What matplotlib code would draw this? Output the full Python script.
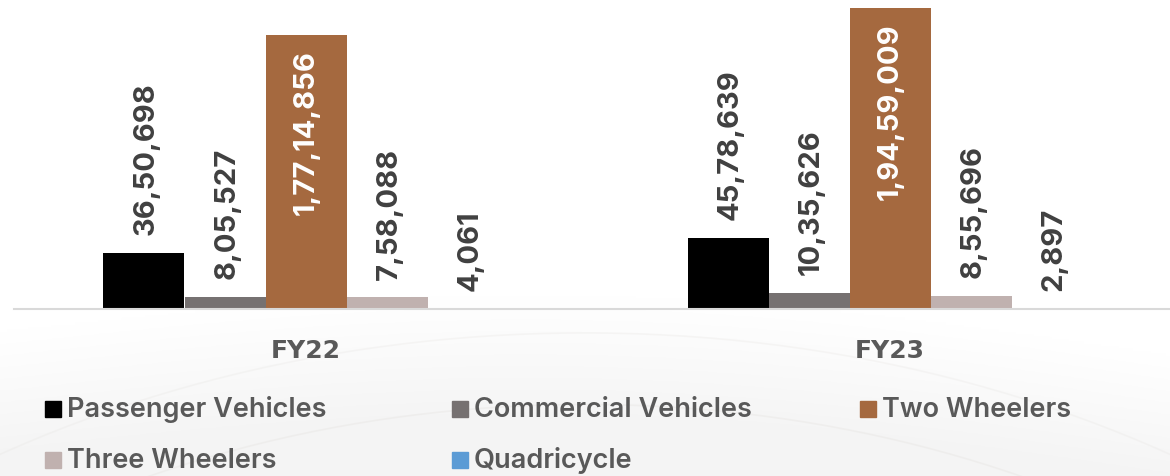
import numpy as np
import matplotlib.pyplot as plt
from matplotlib.patches import Rectangle

# data
years = ["FY22", "FY23"]
series = ["Passenger Vehicles", "Commercial Vehicles", "Two Wheelers", "Three Wheelers", "Quadricycle"]
passenger = [3650698, 4578639]
commercial = [805527, 1035626]
two_wheel = [17714856, 19459009]
three_wheel = [758088, 855696]
quadri = [4061, 2897]
values = [passenger, commercial, two_wheel, three_wheel, quadri]
colori = ["#000000", "#767171", "#A5693F", "#C0B1AF", "#5B9BD5"]

def indian(n):
    s = str(n)
    if len(s) <= 3:
        return s
    last = s[-3:]
    rest = s[:-3]
    parts = []
    while len(rest) > 2:
        parts.insert(0, rest[-2:])
        rest = rest[:-2]
    if rest:
        parts.insert(0, rest)
    return ",".join(parts) + "," + last

W, H = 1170, 477
fig = plt.figure(figsize=(W / 100, H / 100), dpi=100)
fig.patch.set_facecolor("white")

# sfondo chiaro
bg = fig.add_axes([0, 0, 1, 1], zorder=-5)
yy = np.linspace(0, 1, 200)[:, None]
xx = np.linspace(0, 1, 400)[None, :]
curva = 0.30 + 0.10 * np.sin(np.pi * xx) - 0.05 * xx
grad = np.clip((curva - yy) / 0.25, 0, 1) * 0.04
img = 1 - grad
bg.imshow(np.dstack([img, img, img]), extent=[0, 1, 0, 1], origin="lower", aspect="auto")
for r, a in [(1.6, 0.35), (1.75, 0.25)]:
    t = np.linspace(0, np.pi, 300)
    bg.plot(0.5 + r * 0.55 * np.cos(t), -1.45 + r * np.sin(t), color="#e4e2df", lw=1.2, alpha=a)
bg.set_xlim(0, 1)
bg.set_ylim(0, 1)
bg.axis("off")

ax = fig.add_axes([14 / W, 1 - 310 / H, 1168 / W, 310 / H])
ax.set_facecolor("none")

font_num = ["Inter", "DejaVu Sans"]
x = np.arange(len(years))
bw = 81 / 584
for i, (nome, val, col) in enumerate(zip(series, values, colori)):
    pos = x + (i - 2) * bw
    ax.bar(pos, val, width=bw, color=col, label=nome)
    for p, v in zip(pos, val):
        if nome == "Two Wheelers":
            ax.annotate(indian(v), (p, v), xytext=(0, -10), textcoords="offset points",
                        rotation=90, ha="center", va="top", color="white",
                        fontsize=21, fontweight="bold", family=font_num)
        else:
            ax.annotate(indian(v), (p, v), xytext=(1.5, 13.5), textcoords="offset points",
                        rotation=90, ha="center", va="bottom", color="#404040",
                        fontsize=21, fontweight="bold", family=font_num)

ax.set_xlim(-0.5, 1.5)
ax.set_ylim(0, 20.04e6)
ax.set_yticks([])
ax.set_xticks(x)
ax.set_xticklabels(years, fontsize=18, fontweight="bold", color="#595959", family=["DejaVu Sans"])
ax.tick_params(axis="x", length=0, pad=21)
for s in ["top", "right", "left"]:
    ax.spines[s].set_visible(False)
ax.spines["bottom"].set_color("#d9d9d9")
ax.spines["bottom"].set_linewidth(1.5)

# legenda
colx = [45, 452, 860]
rowy = [410, 461]
for i, (nome, col) in enumerate(zip(series, colori)):
    cx = colx[i % 3]
    cy = rowy[i // 3]
    fig.patches.append(Rectangle((cx / W, 1 - (cy + 8) / H), 16 / W, 16 / H,
                                 transform=fig.transFigure, color=col))
    fig.text((cx + 22) / W, 1 - cy / H, nome, fontsize=19.5, fontweight="semibold",
             color="#595959", va="center", ha="left", family=["Inter", "DejaVu Sans"])

fig.savefig("out.png", dpi=100)
